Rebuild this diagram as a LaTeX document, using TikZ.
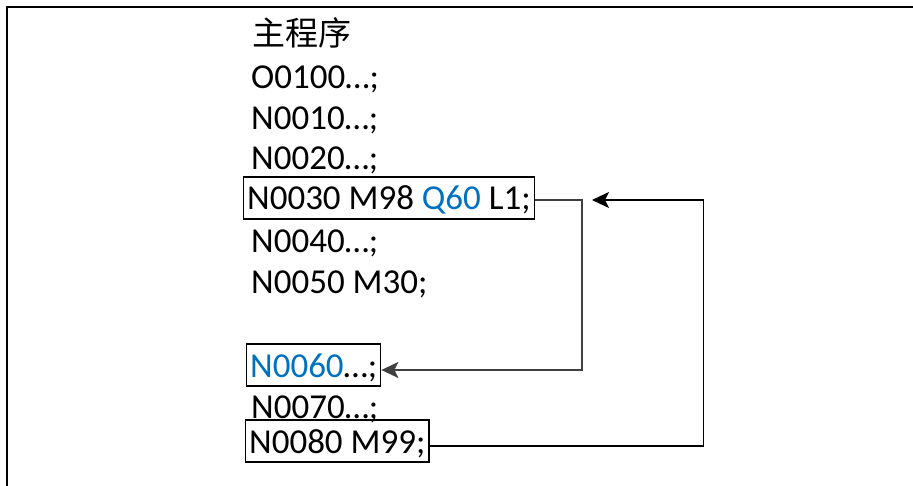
\documentclass[tikz,border=0pt]{standalone}
\usepackage{fontspec}
\setmainfont{Carlito}
\newfontfamily\cjk{Noto Sans CJK SC}
\usetikzlibrary{arrows.meta}
\definecolor{codeblue}{RGB}{0,112,192}
\definecolor{jumpgray}{RGB}{64,64,64}

\begin{document}
\begin{tikzpicture}[x=1pt, y=-1pt,
    codeline/.style={anchor=base west, inner sep=0pt, font=\fontsize{35}{40}\selectfont},
    boxline/.style={codeline, draw, line width=1.3pt, inner xsep=3.5pt, inner ysep=5pt, text height=28pt, text depth=4pt},
    arrow/.style={-{Stealth[length=17pt,width=16pt,inset=4pt]}, line width=1.9pt}
]
\useasboundingbox (0,0) rectangle (913,486);
% frame
\draw[line width=2.5pt] (7,486) -- (7,7) -- (913,7);

\node[codeline, font=\cjk\fontsize{33}{36}\selectfont] (title) at (252,46) {主程序};
\node[codeline] (o100) at (251,89) {O0100…;};
\node[codeline] (n10) at (251,130) {N0010…;};
\node[codeline] (n20) at (251,170) {N0020…;};
\node[boxline] (n30) at (243,210) {N0030 M98 {\color{codeblue}Q60} L1;};
\node[codeline] (n40) at (251,253) {N0040…;};
\node[codeline] (n50) at (251,294) {N0050 M30;};
\node[boxline] (n60) at (246,377) {{\color{codeblue}N0060}…;};
\node[codeline] (n70) at (251,418) {N0070…;};
\node[boxline] (n80) at (245,453) {N0080 M99;};

\coordinate (back) at (592,200);
\draw[arrow, jumpgray] ([yshift=-2pt]n30.east) -- ++(47,0) |- ([yshift=-5pt]n60.east);
\draw[arrow] ([yshift=-5pt]n80.east) -- ++(274,0) |- (back);
\end{tikzpicture}
\end{document}
